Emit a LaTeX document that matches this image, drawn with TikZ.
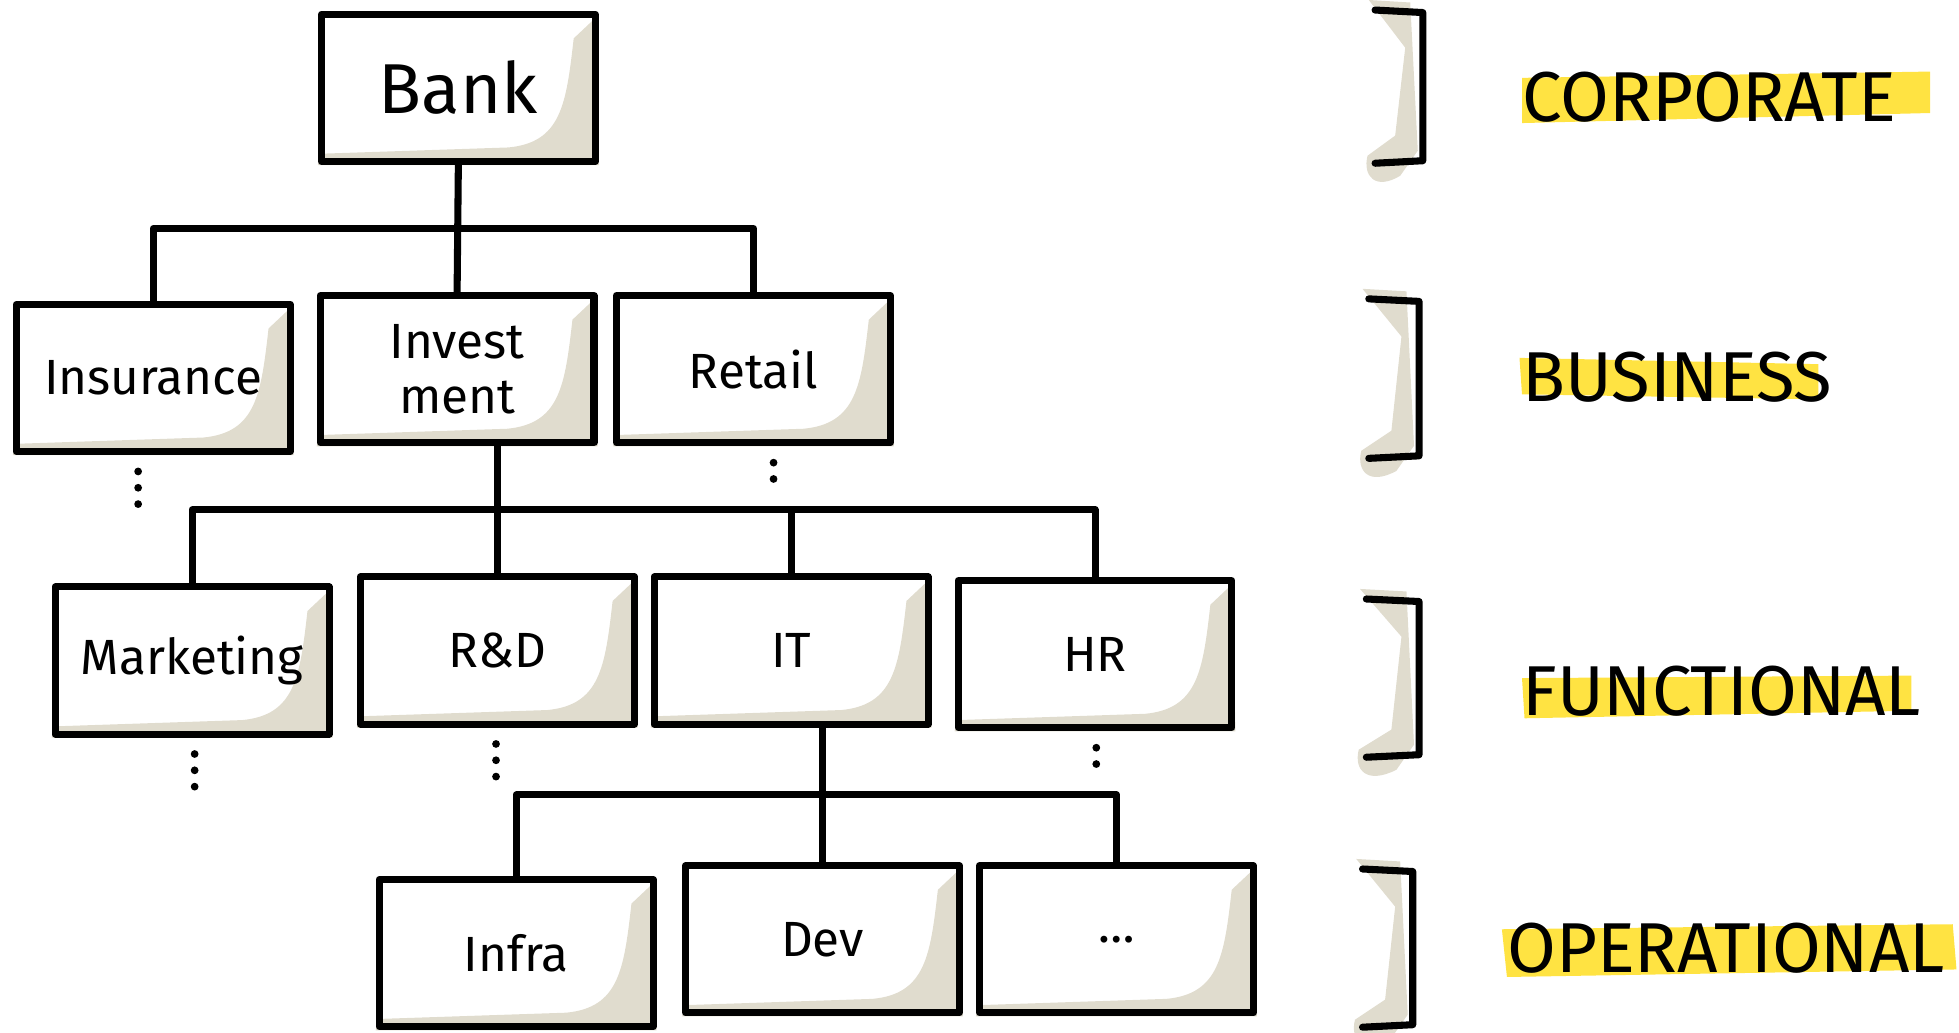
\documentclass[tikz,border=0pt]{standalone}
\usepackage{fontspec}
\setmainfont{Fira Sans}
\usetikzlibrary{calc,positioning}
\definecolor{paper}{RGB}{224,220,206}
\definecolor{marker}{RGB}{255,227,66}
\pgfdeclarelayer{bg}
\pgfsetlayers{bg,main}
\tikzset{
  unit/.style={draw,line width=4pt,line join=round,minimum width=5.45cm,minimum height=2.93cm,
    inner sep=0pt,align=center,font=\fontsize{28}{31}\selectfont},
  link/.style={line width=4pt,line cap=round,line join=round},
  shadow/.style={fill=paper},
  tag/.style={anchor=west,inner sep=0pt,font=\fontsize{40}{44}\selectfont},
}

\begin{document}
\begin{tikzpicture}[x=0.025cm,y=-0.025cm]
\useasboundingbox (0,0) rectangle (1560,822.6);
%corporate
\node[unit,font=\fontsize{40}{44}\selectfont] (bank) at (365,70) {Bank};
%business
\node[unit] (ins) at (122,301) {Insurance};
\node[unit] (inv) at (364,294) {Invest\\ment};
\node[unit] (ret) at (600,294) {Retail};
%functional
\node[unit] (mkt) at (153,526) {Marketing};
\node[unit] (rnd) at (396,518) {R\&D};
\node[unit] (it) at (630,518) {IT};
\node[unit] (hr) at (872,521) {HR};
%operational
\node[unit] (infra) at (411,759) {Infra};
\node[unit] (dev) at (655,748) {Dev};
\node[unit] (etc) at (889,748) {\dots};
%shades
\begin{pgfonlayer}{bg}
\foreach \n in {bank,ins,inv,ret,mkt,rnd,it,hr,infra,dev,etc}{
\fill[shadow] ($(\n.north east)+(-3,6)$) -- ($(\n.north east)+(-20,22)$)
  .. controls ($(\n.south east)+(-26,-48)$) and ($(\n.south east)+(-30,-18)$) .. ($(\n.south east)+(-72,-14)$)
  -- ($(\n.south west)+(2,-9)$) -- (\n.south west) -- (\n.south east) -- cycle;
}
\end{pgfonlayer}
%links
\coordinate (j1) at ($(bank.south)!0.5!(inv.north)$);
\coordinate (j2) at ($(inv.south)!0.5!(rnd.north)$);
\coordinate (j3) at ($(it.south)!0.5!(dev.north)$);
\draw[link] (bank.south) -- (inv.north);
\draw[link] (ins.north) |- (j1) -| (ret.north);
\draw[link] (inv.south -| rnd.north) -- (rnd.north);
\draw[link] (mkt.north) |- (j2) -| (hr.north);
\draw[link] (j2 -| it.north) -- (it.north);
\draw[link] (it.south -| dev.north) -- (dev.north);
\draw[link] (infra.north) |- (j3) -| (etc.north);
%dots
\foreach \n/\dx/\k in {ins/-12/3,ret/16/2,mkt/2/3,rnd/-1/3,hr/1/2}{
\foreach \i in {1,...,\k}
\fill ($(\n.south)+(\dx,13*\i)$) circle (2.2pt);
}
%brackets
\foreach \t/\b/\xl/\xr in {8/130/1095/1133,238/365/1090/1130,477/603/1088/1130,692/818/1085/1125}{
\fill[shadow] (\xl-5,\t-8) -- (\xr-10,\t-6) -- (\xr-4,\b-10) -- (\xr-18,\b+10)
  .. controls (\xl,\b+22) and (\xl-10,\b+10) .. (\xl-6,\b-6)
  -- (\xr-22,\b-22) -- (\xr-14,\t+30) -- cycle;
\draw[link] (\xl,\t) -- (\xr,\t+2) -- (\xr,\b-2) -- (\xl,\b);
}
%highlights
\fill[marker] (1212,62) -- (1537,57) -- (1537,90) -- (1212,98) -- cycle;
\fill[marker] (1210,285) -- (1448,290) -- (1448,318) -- (1212,314) -- cycle;
\fill[marker] (1212,540) -- (1522,538) -- (1522,566) -- (1214,572) -- cycle;
\fill[marker] (1196,740) -- (1555,736) -- (1558,772) -- (1200,778) -- cycle;
%levels
\node[tag] (lcorp) at (1212,77) {CORPORATE};
\node[tag] (lbus) at (1212,300) {BUSINESS};
\node[tag] (lfun) at (1212,550) {FUNCTIONAL};
\node[tag] (lop) at (1200,755) {OPERATIONAL};
\end{tikzpicture}
\end{document}
